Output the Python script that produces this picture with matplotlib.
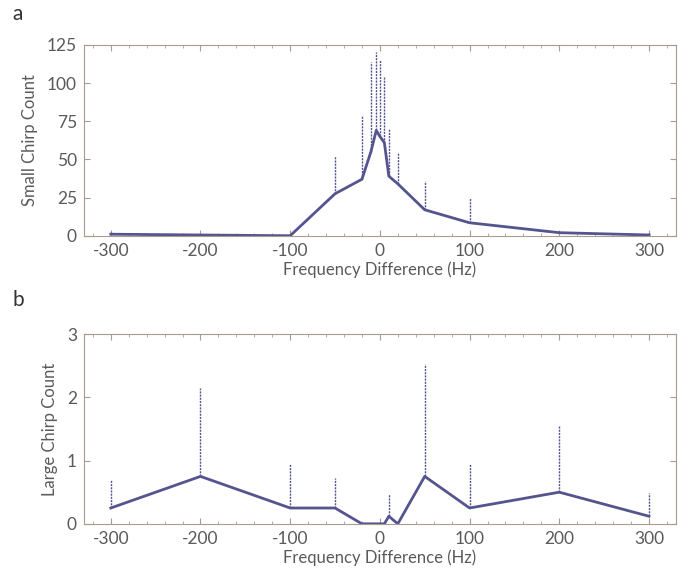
"""Small / large chirp counts vs frequency difference."""

import matplotlib.pyplot as plt
from matplotlib.ticker import MultipleLocator

# panel a: small chirps
freq_a = [-300, -200, -100, -50, -20, -10, -4, 0, 5, 10, 20, 50, 100, 200, 300]
mean_a = [1, 0.5, 0, 27.5, 37, 55, 69, 65, 61, 39, 34, 17, 8.5, 2, 0.5]
upper_a = [2.5, 1, 0, 52, 79, 114, 120, 115, 104, 70, 55, 36, 25, 3, 2]

# panel b: large chirps
freq_b = [-300, -200, -100, -50, -20, -10, -5, 0, 5, 10, 20, 50, 100, 200, 300]
mean_b = [0.25, 0.75, 0.25, 0.25, 0, 0, 0, 0, 0, 0.12, 0, 0.75, 0.25, 0.5, 0.12]
upper_b = [0.7, 2.15, 0.95, 0.72, 0, 0, 0, 0, 0, 0.47, 0, 2.52, 0.95, 1.55, 0.48]

LINE = "#54548f"
FRAME = "#a89c90"
TEXT = "#5a5a5a"

plt.rcParams["font.family"] = ["Lato", "DejaVu Sans"]
plt.rcParams["axes.unicode_minus"] = False


def draw_panel(axis, x, mean, upper, ylim, ystep, ylabel):
    axis.vlines(x, mean, upper, color=LINE, linewidth=1.0, linestyles=(0, (1.5, 0.8)))
    axis.plot(x, mean, color=LINE, linewidth=2)
    axis.set_xlim(-330, 330)
    axis.set_ylim(*ylim)
    axis.xaxis.set_major_locator(MultipleLocator(100))
    axis.xaxis.set_minor_locator(MultipleLocator(20))
    axis.yaxis.set_major_locator(MultipleLocator(ystep))
    axis.tick_params(which="both", direction="in", top=True, right=True,
                     color=FRAME, labelcolor=TEXT, labelsize=12.5)
    axis.tick_params(which="major", length=4, pad=5)
    axis.tick_params(which="minor", length=2)
    for spine in axis.spines.values():
        spine.set_color(FRAME)
    axis.set_xlabel("Frequency Difference (Hz)", color=TEXT, fontsize=12, labelpad=2)
    axis.set_ylabel(ylabel, color=TEXT, fontsize=12, labelpad=6)


figure = plt.figure(figsize=(6.82, 5.75), dpi=100)
ax_a = figure.add_axes([0.123, 0.59, 0.868, 0.332])
ax_b = figure.add_axes([0.123, 0.089, 0.868, 0.330])

draw_panel(ax_a, freq_a, mean_a, upper_a, (0, 125), 25, "Small Chirp Count")
draw_panel(ax_b, freq_b, mean_b, upper_b, (0, 3), 1, "Large Chirp Count")

figure.text(0.018, 0.965, "a", fontsize=15, color="#333333")
figure.text(0.018, 0.468, "b", fontsize=15, color="#333333")

figure.savefig("out.png", dpi=100)
